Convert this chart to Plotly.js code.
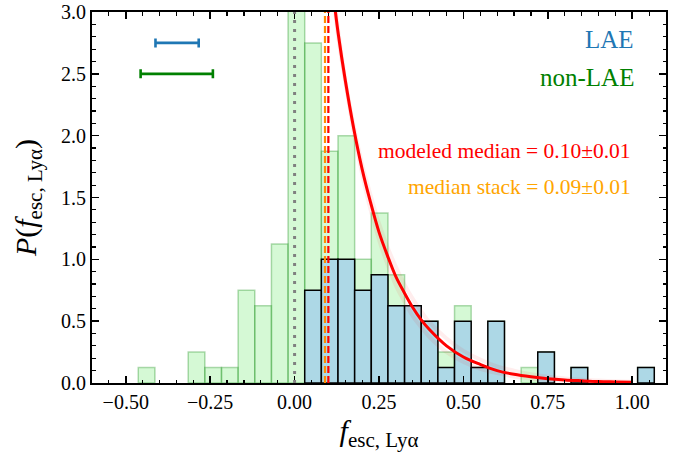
<!DOCTYPE html>
<html>
<head>
<meta charset="utf-8">
<script src="https://cdn.plot.ly/plotly-3.0.1.min.js"></script>
<style>html,body{margin:0;padding:0;background:#fff;}#chart{width:694px;height:458px;}</style>
</head>
<body>
<div id="chart"></div>
<script>
// ---- data ----
const binStart = -0.463;
const binWidth = 0.0493;
// density of all sources (green, drawn behind)
const greenDensity = [0.125, null, null, 0.25, 0.125, 0.125, 0.75, 0.625, 1.125, 4.0,
                      2.75, 1.875, 2.0, 1.0, 1.375, 0.875, 0.625, 0.5, 0.25, 0.625,
                      0.125, 0.5, null, 0.125, 0.25, null, 0.125, null, null, null, 0.125];
// density of LAEs (blue)
const blueDensity = [null, null, null, null, null, null, null, null, null, null,
                     0.75, 1.0, 1.0, 0.75, 0.875, 0.625, 0.625, 0.5, 0.125, 0.5,
                     0.125, 0.5, null, null, 0.25, null, 0.125, null, null, null, 0.125];
// modeled distribution curve
const curveX = [0.12,0.13,0.15,0.175,0.2,0.225,0.25,0.275,0.3,0.325,0.35,0.375,0.4,0.45,0.5,0.55,0.6,0.65,0.7,0.75,0.8,0.85,0.9,0.95,1.0];
const curveY = [3.02,2.81,2.45,2.06,1.73,1.46,1.22,1.03,0.86,0.73,0.61,0.51,0.43,0.30,0.21,0.15,0.10,0.07,0.05,0.035,0.025,0.018,0.012,0.009,0.006];
const curveUpper = [3.0,2.78,2.44,2.08,1.77,1.52,1.29,1.10,0.94,0.80,0.68,0.58,0.49,0.36,0.26,0.19,0.135,0.10,0.07,0.05,0.037,0.027,0.02,0.014,0.01];
const curveLower = [3.05,2.83,2.45,2.03,1.69,1.40,1.16,0.96,0.79,0.66,0.54,0.45,0.37,0.25,0.17,0.115,0.08,0.053,0.036,0.024,0.016,0.011,0.007,0.005,0.003];
// vertical reference lines
const zeroLine = 0.0;
const medianStack = 0.09;
const modeledMedian = 0.10;
// typical uncertainties (top-left error bars)
const errLabels = ['LAE', 'non-LAE'];
const errCenter = [-0.348, -0.349];
const errY = [2.75, 2.50];
const errHalf = [0.064, 0.107];
const xTickVals = [-0.5, -0.25, 0, 0.25, 0.5, 0.75, 1.0];

// ---- build traces ----
const centers = greenDensity.map((_, i) => binStart + binWidth * (i + 0.5));

const traces = [
  {type: 'bar', x: centers, y: greenDensity, width: binWidth,
   marker: {color: 'rgba(144,238,144,0.38)', line: {color: 'rgba(0,128,0,0.3)', width: 1.5}},
   hoverinfo: 'skip'},
  {type: 'bar', x: centers, y: blueDensity, width: binWidth,
   marker: {color: '#add8e6', line: {color: '#000', width: 1.5}},
   hoverinfo: 'skip'},
  {type: 'scatter', mode: 'lines', x: curveX, y: curveUpper, line: {color: 'rgba(255,0,0,0.07)', width: 4, shape: 'spline'}},
  {type: 'scatter', mode: 'lines', x: curveX, y: curveLower, line: {color: 'rgba(255,0,0,0.07)', width: 4, shape: 'spline'}},
  {type: 'scatter', mode: 'lines', x: curveX, y: curveY, line: {color: '#ff0000', width: 3, shape: 'spline'}},
  {type: 'scatter', mode: 'markers', x: [errCenter[0]], y: [errY[0]], marker: {size: 1, color: 'rgba(0,0,0,0)'},
   error_x: {type: 'data', array: [errHalf[0]], color: '#1f77b4', thickness: 2.6, width: 4.5}},
  {type: 'scatter', mode: 'markers', x: [errCenter[1]], y: [errY[1]], marker: {size: 1, color: 'rgba(0,0,0,0)'},
   error_x: {type: 'data', array: [errHalf[1]], color: '#008000', thickness: 2.6, width: 4.5}}
];

const vline = (x, color, dash, width) => ({type: 'line', xref: 'x', yref: 'paper', x0: x, x1: x, y0: 0, y1: 1,
  line: {color: color, dash: dash, width: width}, layer: 'above'});

const serif = 'Liberation Serif';

const layout = {
  width: 694, height: 458,
  margin: {l: 92, r: 28, t: 12, b: 75},
  paper_bgcolor: '#fff', plot_bgcolor: '#fff',
  showlegend: false,
  barmode: 'overlay',
  font: {family: serif, color: '#000', size: 20},
  xaxis: {
    range: [-0.6, 1.1], tickvals: xTickVals, tickformat: '.2f',
    ticks: 'inside', ticklen: 7, tickwidth: 1.5, tickcolor: '#000',
    minor: {dtick: 0.05, tick0: 0, ticks: 'inside', ticklen: 3.5, tickwidth: 1.2, tickcolor: '#000'},
    mirror: 'allticks', showline: true, linewidth: 2, linecolor: '#000',
    showgrid: false, zeroline: false,
    tickfont: {family: serif, size: 20, color: '#000'},
    title: {text: '<i>f</i><sub>esc, Lyα</sub>', font: {family: serif, size: 30, color: '#000'}, standoff: 8}
  },
  yaxis: {
    range: [0, 3], dtick: 0.5, tick0: 0, tickformat: '.1f',
    ticks: 'inside', ticklen: 7, tickwidth: 1.5, tickcolor: '#000',
    minor: {dtick: 0.1, tick0: 0, ticks: 'inside', ticklen: 3.5, tickwidth: 1.2, tickcolor: '#000'},
    mirror: 'allticks', showline: true, linewidth: 2, linecolor: '#000',
    showgrid: false, zeroline: false,
    tickfont: {family: serif, size: 20, color: '#000'},
    title: {text: '<i>P</i>(<i>f</i><sub>esc, Lyα</sub>)', font: {family: serif, size: 30, color: '#000'}, standoff: 16}
  },
  shapes: [
    vline(zeroLine, '#808080', '3px,6px', 3),
    vline(medianStack, '#ff8c00', '7px,3px', 2.2),
    vline(modeledMedian, '#ff0000', '7px,3px', 2.2)
  ],
  annotations: [
    {xref: 'paper', yref: 'paper', x: 0.947, y: 0.925, xanchor: 'right', yanchor: 'middle', showarrow: false,
     text: errLabels[0], font: {family: serif, size: 25, color: '#1f77b4'}},
    {xref: 'paper', yref: 'paper', x: 0.947, y: 0.823, xanchor: 'right', yanchor: 'middle', showarrow: false,
     text: errLabels[1], font: {family: serif, size: 25, color: '#008000'}},
    {xref: 'paper', yref: 'paper', x: 0.942, y: 0.626, xanchor: 'right', yanchor: 'middle', showarrow: false,
     text: 'modeled median = ' + modeledMedian.toFixed(2) + '±0.01', font: {family: serif, size: 21.5, color: '#ff0000'}},
    {xref: 'paper', yref: 'paper', x: 0.942, y: 0.527, xanchor: 'right', yanchor: 'middle', showarrow: false,
     text: 'median stack = ' + medianStack.toFixed(2) + '±0.01', font: {family: serif, size: 21.5, color: '#ffa500'}}
  ]
};

Plotly.newPlot('chart', traces, layout, {displayModeBar: false, staticPlot: true});
</script>
</body>
</html>
